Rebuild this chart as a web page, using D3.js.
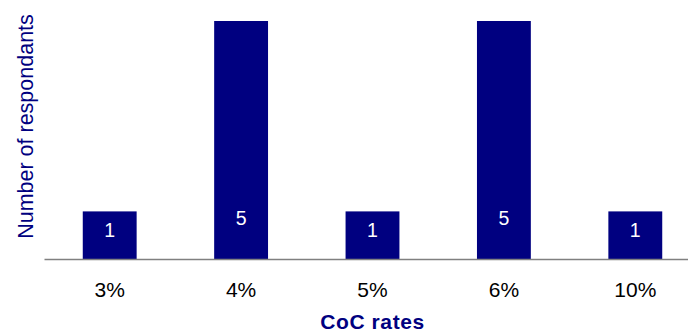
<!DOCTYPE html>
<html>
<head>
<meta charset="utf-8">
<script src="https://cdn.jsdelivr.net/npm/d3@7"></script>
<style>
  html, body { margin: 0; padding: 0; background: #fff; }
  svg { display: block; font-family: Arial, "Liberation Sans", sans-serif; }
</style>
</head>
<body>
<svg id="chart" width="688" height="331"></svg>
<script>
// Survey responses: cost-of-capital rate chosen vs. number of respondents
const categories = ["3%", "4%", "5%", "6%", "10%"];
const respondents = [1, 5, 1, 5, 1];
const yMax = 5;

const plot = { left: 44, right: 701, top: 21, bottom: 259 };
const navy = "#000080";

const svg = d3.select("#chart");

const x = d3.scaleBand()
  .domain(categories)
  .range([plot.left, plot.right])
  .paddingInner(0.59)
  .paddingOuter(0.295);

const y = d3.scaleLinear()
  .domain([0, yMax])
  .range([plot.bottom, plot.top]);

const data = categories.map((c, i) => ({ cat: c, value: respondents[i] }));

// bars
svg.append("g")
  .selectAll("rect")
  .data(data)
  .join("rect")
  .attr("x", d => x(d.cat))
  .attr("y", d => y(d.value))
  .attr("width", x.bandwidth())
  .attr("height", d => y(0) - y(d.value))
  .attr("fill", navy);

// value labels inside the bars, near the base
svg.append("g")
  .selectAll("text")
  .data(data)
  .join("text")
  .attr("x", d => x(d.cat) + x.bandwidth() / 2)
  .attr("y", d => y(0) - 22.5 - (d.value - 1) * 2.9)
  .attr("text-anchor", "middle")
  .attr("font-size", 19.5)
  .attr("fill", "#fff")
  .text(d => d.value);

// x axis: baseline with category labels, no ticks
const xAxis = d3.axisBottom(x).tickSize(0).tickPadding(0);
const gx = svg.append("g")
  .attr("transform", `translate(0,${plot.bottom})`)
  .call(xAxis);
gx.select(".domain").attr("stroke", "#808080").attr("stroke-width", 1.3);
gx.selectAll(".tick text")
  .attr("font-size", 21)
  .attr("font-family", "Arial, 'Liberation Sans', sans-serif")
  .attr("fill", "#000")
  .attr("dy", null)
  .attr("y", 38);

// axis titles
svg.append("text")
  .attr("x", (plot.left + plot.right) / 2)
  .attr("y", 328.5)
  .attr("text-anchor", "middle")
  .attr("font-size", 21)
  .attr("font-weight", "bold")
  .attr("letter-spacing", 0.6)
  .attr("fill", navy)
  .text("CoC rates");

svg.append("text")
  .attr("transform", `translate(32.5,${(13 + 240) / 2}) rotate(-90)`)
  .attr("text-anchor", "middle")
  .attr("font-size", 21.5)
  .attr("fill", navy)
  .text("Number of respondants");
</script>
</body>
</html>
